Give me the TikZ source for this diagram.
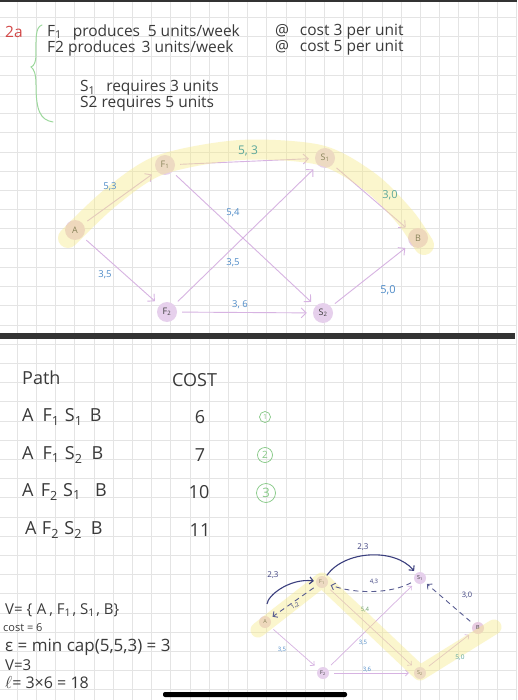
\documentclass[tikz,border=0pt]{standalone}
\usepackage{fontspec}
\setmainfont{Open Sans}
\usetikzlibrary{arrows.meta}
\definecolor{ink}{HTML}{3A3A3A}
\definecolor{gridc}{HTML}{E4E4E4}
\definecolor{vfill}{HTML}{E6D0EC}
\definecolor{vfillA}{HTML}{E8CCE2}
\definecolor{edgec}{HTML}{D7B3E2}
\definecolor{lblue}{HTML}{4E8BC8}
\definecolor{lteal}{HTML}{5AA69A}
\definecolor{lgreen}{HTML}{84C884}
\definecolor{navy}{HTML}{3B3F7E}
\definecolor{hl}{HTML}{F7EA88}
\definecolor{bracec}{HTML}{9CD89C}
\definecolor{redc}{HTML}{D24848}
\definecolor{barc}{HTML}{333333}
\tikzset{
  gridline/.style={draw=gridc, line width=0.6pt},
  txt/.style={anchor=west, inner sep=0pt, text=ink, font=\fontsize{15.5}{15.5}\selectfont},
  bigtxt/.style={txt, font=\fontsize{18}{18}\selectfont},
  midtxt/.style={txt, font=\fontsize{15}{15}\selectfont},
  vtx/.style={circle, fill=vfill, inner sep=0pt, minimum size=20pt, text=ink, font=\fontsize{9}{9}\selectfont},
  svtx/.style={vtx, minimum size=12pt, font=\fontsize{5.5}{5.5}\selectfont},
  fe/.style={draw=edgec, line width=0.9pt, -{Straight Barb[length=5pt,width=10pt]}, shorten >=6pt, shorten <=5pt},
  sfe/.style={draw=edgec, line width=0.7pt, -{Straight Barb[length=3pt,width=6pt]}, shorten >=5pt, shorten <=5pt},
  fwd/.style={draw=navy, line width=1.1pt, -{Straight Barb[length=3.5pt,width=7pt]}},
  back/.style={draw=navy!85, line width=0.9pt, dash pattern=on 5pt off 4pt, -{Straight Barb[length=3.5pt,width=7pt]}},
  lbl/.style={inner sep=0pt, text=lblue, font=\fontsize{9.5}{9.5}\selectfont},
  slbl/.style={inner sep=0pt, text=navy, font=\fontsize{7.5}{7.5}\selectfont},
  hilite/.style={draw=hl, line width=20pt, line cap=round, line join=round, opacity=0.42},
  circnum/.style={circle, draw=lgreen, text=lgreen, inner sep=0pt, line width=0.7pt}
}
\begin{document}
\begin{tikzpicture}[x=1pt,y=-1pt]
\useasboundingbox (0,0) rectangle (517,700);
\fill[white] (0,0) rectangle (517,700);
% grid
\foreach \i in {0,...,26} \draw[gridline] ({17+19.2*\i},0) -- ({17+19.2*\i},700);
\foreach \j in {0,...,35} \draw[gridline] (0,{17.6+19.2*\j}) -- (517,{17.6+19.2*\j});
% top bar
\fill[barc] (0,0) rectangle (517,2.5);

% header text
\node[txt, text=redc] (t2a) at (5,32) {2a};
\draw[bracec, line width=1pt, line cap=round] (42,25) .. controls (35,27) and (36,40) .. (36,55) .. controls (36,62) and (34,66) .. (31,67) .. controls (34,69) and (36,74) .. (36,85) .. controls (36,110) and (40,120) .. (53,122);
\node[txt] (t1) at (47,32) {F\textsubscript{1}\hspace{0.7em}produces\hspace{0.5em}5 units/week};
\node[txt] (t1b) at (275,32) {@\hspace{0.7em}cost 3 per unit};
\node[txt] (t2) at (47,48) {F2 produces\hspace{0.4em}3 units/week};
\node[txt] (t2b) at (275,48) {@\hspace{0.7em}cost 5 per unit};
\node[txt] (t3) at (80,88) {S\textsubscript{1}\hspace{0.7em}requires 3 units};
\node[txt] (t4) at (80,104) {S2 requires 5 units};

% graph 1
\node[vtx, fill=vfillA] (A) at (75,230) {A};
\node[vtx] (F1) at (165,165) {F\textsubscript{1}};
\node[vtx] (S1) at (325,158) {S\textsubscript{1}};
\node[vtx, fill=vfillA] (B) at (418,238) {B};
\node[vtx] (F2) at (167,312) {F\textsubscript{2}};
\node[vtx] (S2) at (323,313) {S\textsubscript{2}};
\draw[fe] (A) -- (F1);
\draw[fe] (A) -- (F2);
\draw[fe] (F1) -- (S1);
\draw[fe] (F1) -- (S2);
\draw[fe] (F2) -- (S1);
\draw[fe] (F2) -- (S2);
\draw[fe] (S1) -- (B);
\draw[fe] (S2) -- (B);
\draw[hilite] plot[smooth] coordinates {(68,238) (110,198) (160,165) (240,150) (320,155) (370,182) (405,217) (424,245)};
\node[lbl] (l1) at (110,187) {5,3};
\node[lbl] (l2) at (105,275) {3,5};
\node[lbl, text=lteal, font=\fontsize{12}{12}\selectfont] (l3) at (248,151) {5, 3};
\node[lbl] (l4) at (233,213) {5,4};
\node[lbl] (l5) at (233,263) {3,5};
\node[lbl] (l6) at (240,305) {3, 6};
\node[lbl, text=lteal, font=\fontsize{11}{11}\selectfont] (l7) at (390,195) {3,0};
\node[lbl, font=\fontsize{11}{11}\selectfont] (l8) at (388,290) {5,0};

% separator
\fill[barc] (0,333) rectangle (515,339);

% table
\node[bigtxt] (hp) at (22,378) {Path};
\node[bigtxt] (hc) at (172,380) {COST};
\node[bigtxt] (r1) at (22,417) {A\hspace{0.5em}F\textsubscript{1}\hspace{0.3em}S\textsubscript{1}\hspace{0.4em}B};
\node[bigtxt] (r2) at (22,455) {A\hspace{0.5em}F\textsubscript{1}\hspace{0.3em}S\textsubscript{2}\hspace{0.5em}B};
\node[bigtxt] (r3) at (22,492) {A\hspace{0.4em}F\textsubscript{2}\hspace{0.3em}S\textsubscript{1}\hspace{0.8em}B};
\node[bigtxt] (r4) at (25,530) {A\hspace{0.3em}F\textsubscript{2}\hspace{0.3em}S\textsubscript{2}\hspace{0.5em}B};
\node[bigtxt, anchor=center] (n1) at (200,417) {6};
\node[bigtxt, anchor=center] (n2) at (200,455) {7};
\node[bigtxt, anchor=center] (n3) at (199,492) {10};
\node[bigtxt, anchor=center] (n4) at (200,530) {11};
\node[circnum, minimum size=11pt, font=\fontsize{7}{7}\selectfont] (c1) at (265,417) {1};
\node[circnum, minimum size=15pt, font=\fontsize{10}{10}\selectfont] (c2) at (265,455) {2};
\node[circnum, minimum size=19pt, font=\fontsize{13}{13}\selectfont] (c3) at (266,493) {3};

% bottom-left text
\node[midtxt] (v1) at (5,610) {V= \{\hspace{0.3em}A\hspace{0.2em}, F\textsubscript{1}\hspace{0.1em}, S\textsubscript{1}\hspace{0.1em}, B\}};
\node[txt, font=\fontsize{11}{11}\selectfont] (v2) at (3,628) {cost = 6};
\node[midtxt, font=\fontsize{17}{17}\selectfont] (v3) at (5,647) {ε = min cap(5,5,3) = 3};
\node[midtxt] (v4) at (5,665) {V=3};
\node[midtxt, font=\fontsize{16}{16}\selectfont] (v5) at (5,683) {$\ell$= 3×6 = 18};

% graph 2
\node[svtx, fill=vfillA] (a) at (265,622) {A};
\node[svtx] (f1) at (322,582) {F\textsubscript{1}};
\node[svtx] (s1) at (420,578) {S\textsubscript{1}};
\node[svtx, fill=vfillA] (b) at (478,628) {B};
\node[svtx] (f2) at (323,673) {F\textsubscript{2}};
\node[svtx] (s2) at (420,673) {S\textsubscript{2}};
\draw[sfe] (a) -- (f2);
\draw[sfe] (f2) -- (s1);
\draw[sfe] (f2) -- (s2);
\draw[sfe] (f1) -- (s2);
\draw[sfe] (s2) -- (b);
\draw[hilite, line width=15pt] (258,630) -- (322,580) -- (420,673) -- (494,627);
\draw[fwd, shorten <=12pt, shorten >=2pt] (a) .. controls (268,595) and (290,578) .. (f1);
\draw[fwd, shorten <=2pt, shorten >=3pt] (f1) .. controls (345,550) and (395,548) .. (s1);
\draw[back, shorten <=4pt, shorten >=3pt] (f1) -- (a);
\draw[back, shorten <=4pt, shorten >=3pt] (s1) .. controls (390,594) and (355,594) .. (f1);
\draw[back, shorten <=4pt, shorten >=3pt] (b) -- (s1);
\node[slbl, font=\fontsize{8}{8}\selectfont] (m1) at (273,575) {2,3};
\node[slbl, font=\fontsize{8}{8}\selectfont] (m2) at (363,547) {2,3};
\node[slbl, rotate=30, font=\fontsize{6}{6}\selectfont] (m3) at (295,606) {1,2};
\node[slbl, font=\fontsize{6}{6}\selectfont] (m4) at (374,582) {4,3};
\node[slbl] (m5) at (467,595) {3,0};
\node[slbl, text=lgreen!80!black, font=\fontsize{6}{6}\selectfont] (m6) at (365,610) {5,4};
\node[slbl, text=lblue, font=\fontsize{6}{6}\selectfont] (m7) at (363,643) {3,5};
\node[slbl, text=lblue, font=\fontsize{6}{6}\selectfont] (m8) at (282,650) {3,5};
\node[slbl, text=lblue, font=\fontsize{6}{6}\selectfont] (m9) at (367,670) {3,6};
\node[slbl, text=lteal, font=\fontsize{6.5}{6.5}\selectfont] (m10) at (460,658) {5,0};

% bottom bar
\fill[black, rounded corners=2pt] (163,692) rectangle (347,697);
\end{tikzpicture}
\end{document}
